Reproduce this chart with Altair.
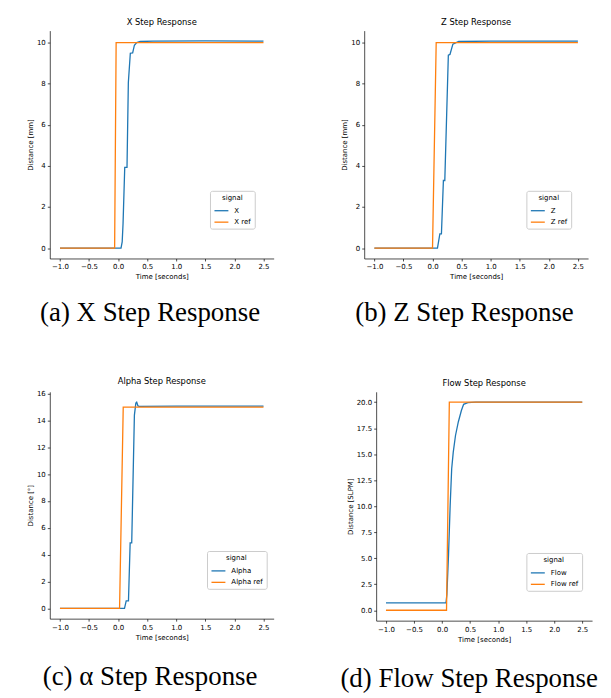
import altair as alt
import pandas as pd

BLUE = "#1f77b4"
ORANGE = "#ff7f0e"
FONT = "DejaVu Sans"
SERIF = "Liberation Serif"

time_ticks = [-1.0, -0.5, 0.0, 0.5, 1.0, 1.5, 2.0, 2.5]

# (a) X
x_t = [-1.0, 0.05, 0.07, 0.085, 0.114, 0.153, 0.176, 0.21, 0.25, 0.28, 0.32, 0.38, 0.6, 1.5, 2.5]
x_v = [0.0, 0.0, 0.3, 1.2, 3.93, 3.93, 8.06, 9.48, 9.5, 9.87, 10.0, 10.05, 10.07, 10.08, 10.07]
xref_t = [-1.0, -0.06, -0.034, 2.5]
xref_v = [0.0, 0.0, 10.0, 10.0]

# (b) Z
z_t = [-1.0, 0.085, 0.126, 0.153, 0.187, 0.211, 0.272, 0.30, 0.35, 0.45, 1.0, 2.5]
z_v = [0.0, 0.0, 0.69, 0.69, 3.29, 3.29, 9.39, 9.42, 9.92, 10.05, 10.07, 10.07]
zref_t = [-1.0, 0.0, 0.063, 2.5]
zref_v = [0.0, 0.0, 10.0, 10.0]

# (c) Alpha
a_t = [-1.0, 0.11, 0.139, 0.178, 0.207, 0.234, 0.28, 0.305, 0.32, 0.34, 0.36, 1.0, 2.5]
a_v = [0.0, 0.0, 0.55, 0.55, 4.88, 4.88, 14.4, 15.3, 15.37, 15.1, 15.05, 15.07, 15.07]
aref_t = [-1.0, 0.025, 0.088, 2.5]
aref_v = [0.0, 0.0, 15.0, 15.0]

# (d) Flow
f_t = [-1.0, 0.07, 0.086, 0.116, 0.145, 0.172, 0.2, 0.24, 0.29, 0.345, 0.385, 0.46, 0.6, 2.5]
f_v = [0.7, 0.7, 1.5, 5.35, 10.1, 13.6, 15.2, 16.8, 18.1, 19.2, 19.8, 19.95, 20.0, 20.0]
fref_t = [-1.0, 0.08, 0.13, 2.5]
fref_v = [0.0, 0.0, 20.0, 20.0]


def make_df(name, t, v, rt, rv):
    rows = [{"t": a, "v": b, "signal": name} for a, b in zip(t, v)]
    rows += [{"t": a, "v": b, "signal": name + " ref"} for a, b in zip(rt, rv)]
    return pd.DataFrame(rows)


def indep(c):
    return c.resolve_scale(color="independent").resolve_legend(color="independent")


def panel(name, t, v, rt, rv, heading, ylabel, yticks, ydom, yfmt, lx, ly, w, h,
          caption, cap_offset):
    df = make_df(name, t, v, rt, rv)
    plot = alt.Chart(df).mark_line(strokeWidth=1.3).encode(
        x=alt.X("t:Q", title="Time [seconds]",
                scale=alt.Scale(domain=[-1.175, 2.675], nice=False, zero=False),
                axis=alt.Axis(values=time_ticks, format=".1f")),
        y=alt.Y("v:Q", title=ylabel,
                scale=alt.Scale(domain=ydom, nice=False, zero=False),
                axis=alt.Axis(values=yticks, format=yfmt)),
        color=alt.Color("signal:N", title="signal",
                        scale=alt.Scale(domain=[name, name + " ref"], range=[BLUE, ORANGE]),
                        legend=alt.Legend(orient="none", legendX=lx, legendY=ly)),
    ).properties(
        width=w, height=h,
        title=alt.Title(heading, fontSize=8.4, font=FONT, fontWeight="normal",
                        offset=4, color="black", anchor="middle"),
    )
    return indep(alt.vconcat(
        plot,
        title=alt.Title(caption, orient="bottom", frame="bounds", anchor="middle",
                        font=SERIF, fontSize=27, fontWeight="normal", offset=cap_offset,
                        color="black"),
    ))


pa = panel("X", x_t, x_v, xref_t, xref_v, "X Step Response", "Distance [mm]",
           [0, 2, 4, 6, 8, 10], [-0.504, 10.58], "d", 161, 161, 225, 229,
           "(a) X Step Response", 20)
pb = panel("Z", z_t, z_v, zref_t, zref_v, "Z Step Response", "Distance [mm]",
           [0, 2, 4, 6, 8, 10], [-0.504, 10.58], "d", 163, 161, 225, 229,
           "(b) Z Step Response", 20)
pc = panel("Alpha", a_t, a_v, aref_t, aref_v, "Alpha Step Response", "Distance [°]",
           [0, 2, 4, 6, 8, 10, 12, 14, 16], [-0.77, 16.14], "d", 158, 160, 225, 228,
           "(c) α Step Response", 24)
pd_ = panel("Flow", f_t, f_v, fref_t, fref_v, "Flow Step Response", "Distance [SLPM]",
            [0, 2.5, 5, 7.5, 10, 12.5, 15, 17.5, 20], [-1.0, 21.0], ".1f", 151, 162, 217, 230,
            "(d) Flow Step Response", 24)

row1 = indep(alt.hconcat(pa, pb, spacing=67))
row2 = indep(alt.hconcat(pc, pd_, spacing=67))

chart = indep(alt.vconcat(row1, row2, spacing=51)).properties(
    padding={"left": 18, "top": 8, "right": 5, "bottom": 2}
).configure_view(stroke=None).configure_axis(
    labelFont=FONT, labelFontSize=7, labelColor="black",
    titleFont=FONT, titleFontSize=7, titleFontWeight="normal", titleColor="black",
    domainColor="black", domainWidth=0.7, tickColor="black", tickWidth=0.7,
    tickSize=2.5, labelPadding=2, titlePadding=3, grid=False,
    labelOverlap=False, labelFlush=False,
).configure_legend(
    titleFont=FONT, labelFont=FONT, titleFontSize=7, labelFontSize=7,
    titleFontWeight="normal", titleColor="black", labelColor="black",
    symbolType="stroke", symbolSize=196, symbolStrokeWidth=1.3,
    padding=3.5, rowPadding=0.5, titlePadding=1.5, labelOffset=5,
    strokeColor="#cccccc", fillColor="white", cornerRadius=2, titleAnchor="middle",
)

chart.save("out.html", embed_options={"renderer": "svg", "actions": False})
